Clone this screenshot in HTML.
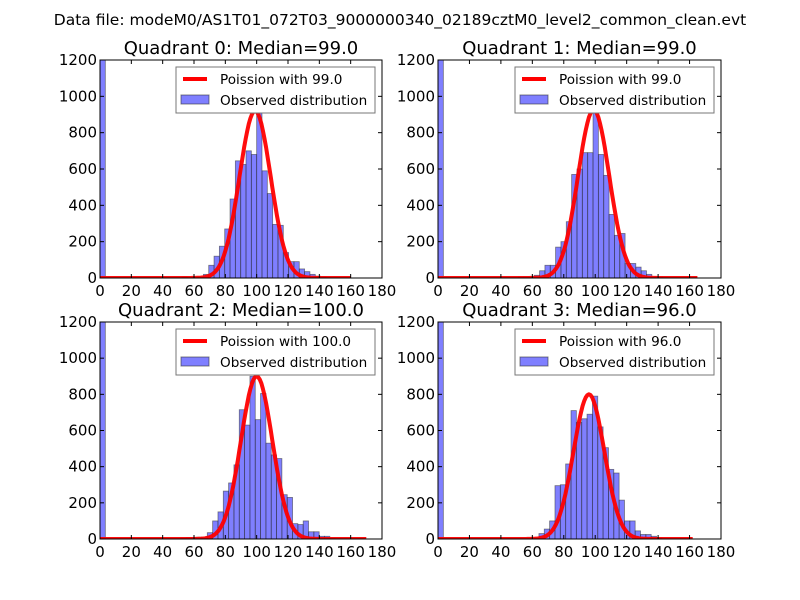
<!DOCTYPE html>
<html><head><meta charset="utf-8"><style>
body{margin:0;background:#fff}
svg{display:block;font-family:"DejaVu Sans","Liberation Sans",sans-serif}
</style></head><body>
<svg id="fig" width="800" height="600" viewBox="0 0 800 600">
<rect width="800" height="600" fill="#fff"/>
<text x="400" y="25" text-anchor="middle" font-size="15.5">Data file: modeM0/AS1T01_072T03_9000000340_02189cztM0_level2_common_clean.evt</text>
</svg>
<script>
const titles=["Quadrant 0: Median=99.0","Quadrant 1: Median=99.0","Quadrant 2: Median=100.0","Quadrant 3: Median=96.0"];
const medians=[99.0,99.0,100.0,96.0];
const peaks=[920,925,900,800];
const binWidth=3.4;
const binStarts=[52.4,51.0,51.5,60.8];
const zeroBin=[1500,1500,1500,1500];
const counts0=[5,2,3,5,20,70,120,175,270,435,645,625,700,680,920,590,465,295,290,140,90,90,50,35,20,10,5,2];
const counts1=[5,5,5,15,40,70,70,170,200,310,570,600,690,690,925,680,565,350,235,245,80,80,60,40,20,8,5,2];
const counts2=[5,8,8,10,10,35,100,150,265,310,410,715,630,900,660,805,530,465,445,245,230,85,80,100,40,40,15,15,3];
const counts3=[5,30,55,100,295,300,415,710,645,665,690,790,620,505,385,365,215,100,100,45,25,25,15,5];
const allCounts=[counts0,counts1,counts2,counts3];
const curveEnd=[160,165,170,162];
const xTicks=[0,20,40,60,80,100,120,140,160,180];
const yTicks=[0,200,400,600,800,1000,1200];
const boxes=[[100,60,382,278],[438,60,721,278],[100,322,382,539],[438,322,721,539]];
const NS="http://www.w3.org/2000/svg";
const svg=document.getElementById('fig');
function mk(tag,attrs,parent){const e=document.createElementNS(NS,tag);for(const k in attrs)e.setAttribute(k,attrs[k]);(parent||svg).appendChild(e);return e;}
boxes.forEach((b,q)=>{
  const [x0,y0,x1,y1]=b;
  const sx=v=>x0+(x1-x0)*v/180;
  const sy=v=>y1-(y1-y0)*Math.min(v,1200)/1200;
  const g=mk('g',{});
  
  
  const clip=mk('clipPath',{id:'c'+q},g);mk('rect',{x:x0,y:y0,width:x1-x0,height:y1-y0},clip);
  const pg=mk('g',{'clip-path':'url(#c'+q+')'},g);
  const bars=[[0,zeroBin[q]]].concat(allCounts[q].map((c,i)=>[binStarts[q]+i*binWidth,c]));
  bars.forEach(([s,c])=>{
    const r=mk('rect',{x:sx(s),y:sy(c),width:sx(s+binWidth)-sx(s),height:y1-sy(c),fill:'rgba(0,0,255,0.5)',stroke:'#333','stroke-width':0.8,'stroke-opacity':0.6},pg);
    
    
  });
  let d='';const lam=medians[q];
  for(let x=0;x<=curveEnd[q];x+=1){const v=peaks[q]*Math.exp(-(x-lam)*(x-lam)/(2*lam));d+=(x?'L':'M')+sx(x).toFixed(1)+','+sy(v).toFixed(1);}
  const p=mk('path',{d:d,fill:'none',stroke:'#ff0000','stroke-width':4,'stroke-linejoin':'round','stroke-opacity':0.95},pg);
  
  
  mk('rect',{x:x0,y:y0,width:x1-x0,height:y1-y0,fill:'none',stroke:'#000','stroke-width':1},g);
  xTicks.forEach(t=>{const x=sx(t);
    mk('line',{x1:x,x2:x,y1:y1,y2:y1-4,stroke:'#000'},g);mk('line',{x1:x,x2:x,y1:y0,y2:y0+4,stroke:'#000'},g);
    const tx=mk('text',{x:x,y:y1+18,'text-anchor':'middle','font-size':15},g);tx.textContent=t;
    
    });
  yTicks.forEach(t=>{const y=sy(t);
    mk('line',{x1:x0,x2:x0+4,y1:y,y2:y,stroke:'#000'},g);mk('line',{x1:x1,x2:x1-4,y1:y,y2:y,stroke:'#000'},g);
    const tx=mk('text',{x:x0-3,y:y+5,'text-anchor':'end','font-size':15},g);tx.textContent=t;
    
    });
  const tt=mk('text',{x:(x0+x1)/2,y:y0-6,'text-anchor':'middle','font-size':18},g);tt.textContent=titles[q];
  
  
  const lx=x1-206,ly=y0+7;
  const lg=mk('g',{},g);
  
  
  mk('rect',{x:lx,y:ly,width:199,height:46,fill:'#fff',stroke:'#777','stroke-width':1},lg);
  mk('line',{x1:lx+7,x2:lx+31,y1:ly+12,y2:ly+12,stroke:'#ff0000','stroke-width':4},lg);
  const t1=mk('text',{x:lx+44,y:ly+17,'font-size':13.6},lg);t1.textContent='Poission with '+medians[q].toFixed(1);
  
  
  mk('rect',{x:lx+5,y:ly+28,width:28,height:9,fill:'rgba(0,0,255,0.5)',stroke:'#333','stroke-opacity':0.6},lg);
  const t2=mk('text',{x:lx+44,y:ly+38,'font-size':13.6},lg);t2.textContent='Observed distribution';
  
  
});
</script>
</body></html>
